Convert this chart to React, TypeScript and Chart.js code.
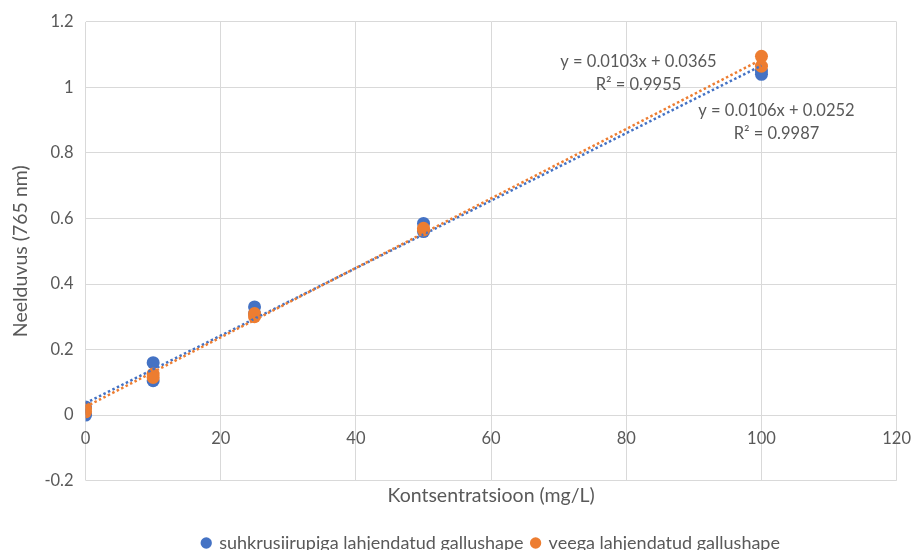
import React, { useEffect, useRef } from "react";
import { Chart, registerables } from "chart.js";

Chart.register(...registerables);

const concentrations = [0, 0, 10, 10, 25, 25, 50, 50, 100, 100];
const syrupValues = [0.0, 0.025, 0.16, 0.105, 0.33, 0.31, 0.585, 0.56, 1.04, 1.05];
const waterValues = [0.01, 0.02, 0.125, 0.115, 0.3, 0.31, 0.565, 0.57, 1.095, 1.065];
const seriesNames = ["suhkrusiirupiga lahjendatud gallushape", "veega lahjendatud gallushape"];
const seriesColors = ["#4472C4", "#ED7D31"];
const trendSlopes = [0.0103, 0.0106];
const trendIntercepts = [0.0365, 0.0252];
const trendR2 = ["0.9955", "0.9987"];
const trendRange = [0, 100];
const xTitle = "Kontsentratsioon (mg/L)";
const yTitle = "Neelduvus (765 nm)";
const xMin = 0, xMax = 120, xStep = 20;
const yMin = -0.2, yMax = 1.2, yStep = 0.2;

const FONT = "Lato, 'Liberation Sans', sans-serif";
const TEXT = "#595959";
const GRID = "#D9D9D9";

const fmt = (v: number) => v.toFixed(4);
const fmtTick = (v: number) => {
  const n = Math.round(v * 10) / 10;
  return n === 0 ? "0" : String(n);
};

const trendLabelPlugin = {
  id: "trendLabels",
  afterDatasetsDraw(chart: any) {
    const { ctx, scales } = chart;
    const x = scales.x.getPixelForValue(trendRange[1]);
    // offsets of Excel's label boxes from the end of each trendline
    const offsets = [
      { dx: -123, dy: [-4, 19] },
      { dx: 15, dy: [51, 74] },
    ];
    ctx.save();
    ctx.fillStyle = TEXT;
    ctx.font = `16.5px ${FONT}`;
    ctx.textAlign = "center";
    ctx.textBaseline = "middle";
    trendSlopes.forEach((m, i) => {
      const yEnd = scales.y.getPixelForValue(m * trendRange[1] + trendIntercepts[i]);
      const o = offsets[i];
      ctx.fillText(`y = ${fmt(m)}x + ${fmt(trendIntercepts[i])}`, x + o.dx, yEnd + o.dy[0]);
      ctx.fillText(`R² = ${trendR2[i]}`, x + o.dx, yEnd + o.dy[1]);
    });
    ctx.restore();
  },
};

export default function App() {
  const ref = useRef<HTMLCanvasElement>(null);
  useEffect(() => {
    document.body.style.margin = "0";
    const series = [syrupValues, waterValues];
    const scatterSets = series.map((vals, i) => ({
      type: "scatter" as const,
      label: seriesNames[i],
      data: concentrations.map((c, j) => ({ x: c, y: vals[j] })),
      backgroundColor: seriesColors[i],
      borderColor: seriesColors[i],
      pointRadius: 6.5,
      pointHoverRadius: 6.5,
      pointBorderWidth: 0,
      order: 10 - i,
    }));
    const trendSets = trendSlopes.map((m, i) => ({
      type: "line" as const,
      label: "trend" + i,
      data: trendRange.map((x) => ({ x, y: m * x + trendIntercepts[i] })),
      borderColor: seriesColors[i],
      borderWidth: 2.5,
      borderDash: [2.5, 2.5],
      pointRadius: 0,
      fill: false,
      order: 2 - i,
    }));
    const chart = new Chart(ref.current!, {
      type: "scatter",
      data: { datasets: [...scatterSets, ...trendSets] as any },
      plugins: [trendLabelPlugin],
      options: {
        animation: false,
        responsive: true,
        maintainAspectRatio: false,
        layout: { padding: { left: 9, right: 2, top: 0, bottom: -12 } },
        plugins: {
          tooltip: { enabled: false },
          legend: {
            position: "bottom",
            fullSize: false,
            labels: {
              filter: (item: any) => item.datasetIndex < 2,
              sort: (a: any, b: any) => a.datasetIndex - b.datasetIndex,
              usePointStyle: true,
              pointStyle: "circle",
              boxWidth: 8,
              boxHeight: 8,
              padding: 8,
              color: TEXT,
              font: { family: FONT, size: 18 },
            },
          },
        },
        scales: {
          x: {
            type: "linear",
            position: { y: -0.036 } as any,
            min: xMin,
            max: xMax,
            ticks: { stepSize: xStep, color: TEXT, font: { family: FONT, size: 16.5 }, padding: 2 },
            grid: { color: GRID, lineWidth: 1, drawTicks: false },
            border: { display: false },
          },
          x2: {
            type: "linear",
            position: "bottom",
            min: xMin,
            max: xMax,
            ticks: { display: false },
            grid: { display: false, drawTicks: false },
            border: { display: false },
            title: { display: true, text: xTitle, color: TEXT, font: { family: FONT, size: 19.5 }, padding: { top: 3, bottom: 19 } },
          },
          y: {
            type: "linear",
            min: yMin,
            max: yMax,
            ticks: { stepSize: yStep, color: TEXT, font: { family: FONT, size: 16.5 }, padding: 12, callback: (v: any) => fmtTick(Number(v)) },
            grid: { color: GRID, lineWidth: 1, drawTicks: false },
            border: { display: false },
            title: { display: true, text: yTitle, color: TEXT, font: { family: FONT, size: 19.5 }, padding: { top: 0, bottom: 0 } },
          },
        },
      },
    });
    return () => chart.destroy();
  }, []);
  return (
    <div style={{ position: "absolute", left: 0, top: 0, width: 913, height: 550 }}>
      <canvas ref={ref} />
    </div>
  );
}
